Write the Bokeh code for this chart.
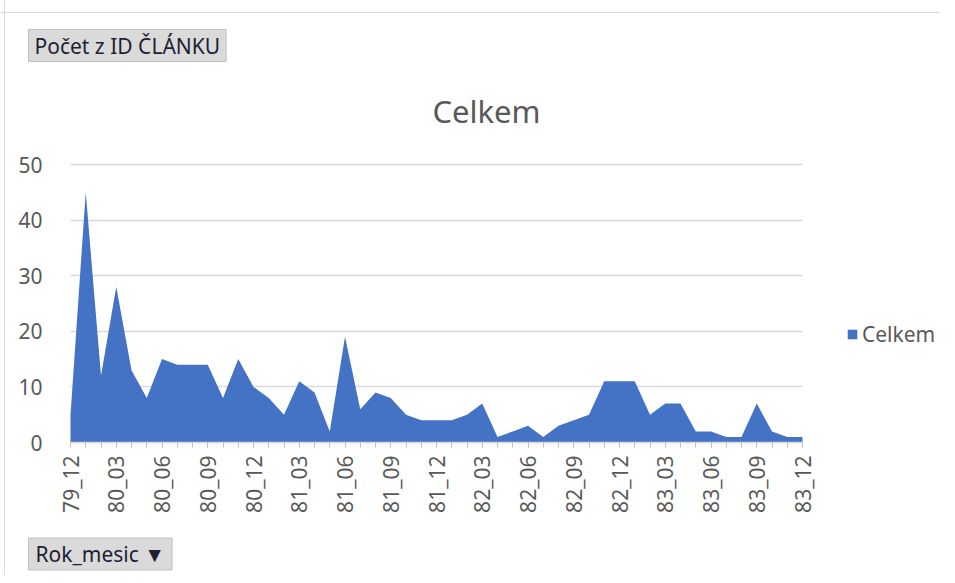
from math import pi
from bokeh.plotting import figure
from bokeh.models import (Range1d, FixedTicker, Label, Legend, LegendItem,
                          Span, Grid)
from bokeh.embed import file_html
from bokeh.resources import INLINE

# ---------------- data ----------------
months = ["79_12",
          "80_01", "80_02", "80_03", "80_04", "80_05", "80_06",
          "80_07", "80_08", "80_09", "80_10", "80_11", "80_12",
          "81_01", "81_02", "81_03", "81_04", "81_05", "81_06",
          "81_07", "81_08", "81_09", "81_10", "81_11", "81_12",
          "82_01", "82_02", "82_03", "82_04", "82_05", "82_06",
          "82_07", "82_08", "82_09", "82_10", "82_11", "82_12",
          "83_01", "83_02", "83_03", "83_04", "83_05", "83_06",
          "83_07", "83_08", "83_09", "83_10", "83_11", "83_12"]
counts = [5, 45, 12, 28, 13, 8, 15, 14, 14, 14, 8, 15, 10,
          8, 5, 11, 9, 2, 19, 6, 9, 8, 5, 4, 4,
          4, 5, 7, 1, 2, 3, 1, 3, 4, 5, 11, 11,
          11, 5, 7, 7, 2, 2, 1, 1, 7, 2, 1, 1]
y_ticks = [0, 10, 20, 30, 40, 50]
series_name = "Celkem"
chart_title = "Celkem"
value_button = "Počet z ID ČLÁNKU"
axis_button = "Rok_mesic ▼"

# ---------------- layout (pixels on the canvas) ----------------
W, H = 939, 575
PX_LEFT, PX_RIGHT = 70, 802     # first / last category
PX_ZERO, PX_TOP = 442, 164      # value 0 / value 50
N_LAST = len(months) - 1
Y_MAX = y_ticks[-1]

sx = (PX_RIGHT - PX_LEFT) / N_LAST
sy = (PX_ZERO - PX_TOP) / Y_MAX


def dx(px):
    return (px - PX_LEFT) / sx


def dy(py):
    return (PX_ZERO - py) / sy


FONT = "Noto Sans"
TXT = "#595959"
BLUE = "#4472C4"
GRID = "#D9D9D9"

xs = list(range(len(months)))
label_ticks = xs[::3]

p = figure(width=W, height=H, output_backend="svg", toolbar_location=None,
           x_range=Range1d(dx(0), dx(W)), y_range=Range1d(dy(H), dy(0)),
           min_border=0, outline_line_color=None, title=None)

r = p.varea(x=xs, y1=[0] * len(xs), y2=counts, fill_color=BLUE, fill_alpha=1.0)

# horizontal gridlines only over the plot area
p.xgrid.visible = False
if "cross_bounds" in Grid.properties():
    p.ygrid.ticker = FixedTicker(ticks=y_ticks)
    p.ygrid.bounds = (0, Y_MAX)
    p.ygrid.cross_bounds = (0, N_LAST)
    p.ygrid.grid_line_color = GRID
    p.ygrid.grid_line_width = 1.5
else:
    p.ygrid.visible = False
    p.segment(x0=[0] * len(y_ticks), x1=[N_LAST] * len(y_ticks),
              y0=y_ticks, y1=y_ticks, line_color=GRID, line_width=1.5,
              level="underlay")

# y axis drawn at the first category
p.yaxis.fixed_location = 0
p.yaxis.bounds = (0, Y_MAX)
p.yaxis.ticker = FixedTicker(ticks=y_ticks)
p.yaxis.axis_line_color = None
p.yaxis.major_tick_line_color = None
p.yaxis.minor_tick_line_color = None
p.yaxis.major_label_text_font = FONT
p.yaxis.major_label_text_font_size = "21px"
p.yaxis.major_label_text_color = TXT
p.yaxis.major_label_standoff = 22

# x axis drawn at value 0
p.xaxis.fixed_location = 0
p.xaxis.bounds = (0, N_LAST)
p.xaxis.ticker = FixedTicker(ticks=label_ticks, minor_ticks=xs)
p.xaxis.major_label_overrides = {i: months[i] for i in label_ticks}
p.xaxis.major_label_orientation = pi / 2
p.xaxis.axis_line_color = GRID
p.xaxis.axis_line_width = 1.5
p.xaxis.major_tick_line_color = "#BFBFBF"
p.xaxis.minor_tick_line_color = "#BFBFBF"
p.xaxis.major_tick_in = 0
p.xaxis.minor_tick_in = 0
p.xaxis.major_tick_out = 5
p.xaxis.minor_tick_out = 5
p.xaxis.major_label_text_font = FONT
p.xaxis.major_label_text_font_size = "21px"
p.xaxis.major_label_text_color = TXT
p.xaxis.major_label_standoff = 8

# chart area border (top and left)
p.add_layout(Span(location=dy(12), dimension="width", line_color=GRID, line_width=1))
p.add_layout(Span(location=dx(4), dimension="height", line_color=GRID, line_width=1))

# title
p.add_layout(Label(x=dx(486), y=dy(110), text=chart_title, text_font=FONT,
                   text_font_size="31px", text_color=TXT,
                   text_align="center", text_baseline="middle"))

# pivot field buttons
p.add_layout(Label(x=dx(28), y=dy(45), text=value_button, text_font=FONT,
                   text_font_size="21px", text_color="#1F1F33",
                   text_align="left", text_baseline="middle",
                   background_fill_color="#DADADA", border_line_color="#C0C0C0",
                   padding=(6, 2)))
p.add_layout(Label(x=dx(28), y=dy(553.5), text=axis_button, text_font=FONT,
                   text_font_size="21px", text_color="#1F1F33",
                   text_align="left", text_baseline="middle",
                   background_fill_color="#DADADA", border_line_color="#C0C0C0",
                   padding=(7, 2)))

# legend
legend = Legend(items=[LegendItem(label=series_name, renderers=[r])],
                location=(846, H - 348), orientation="vertical",
                glyph_width=12, glyph_height=12, label_standoff=4,
                label_height=16, padding=0, margin=0, spacing=0,
                border_line_color=None, background_fill_alpha=0,
                label_text_font=FONT, label_text_font_size="21px",
                label_text_color=TXT)
p.add_layout(legend, "center")

open("out.html", "w").write(file_html(p, INLINE))
